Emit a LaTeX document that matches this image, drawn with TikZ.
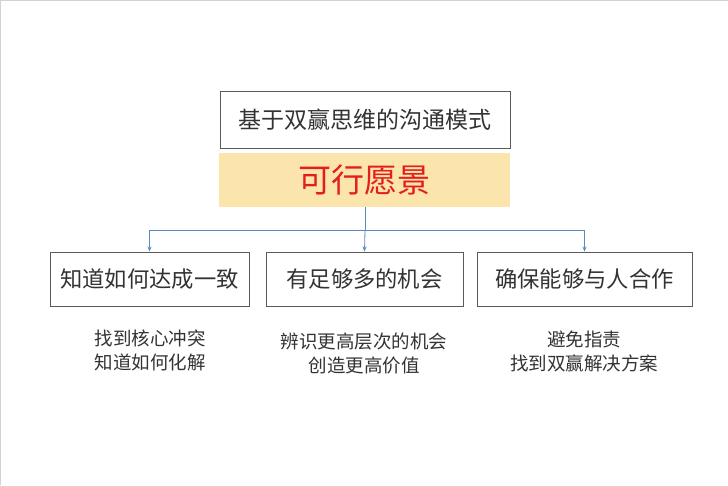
\documentclass[tikz,border=0pt]{standalone}
\usepackage{fontspec}
\setmainfont{Noto Sans CJK SC}
\usetikzlibrary{arrows.meta}
\definecolor{boxline}{HTML}{5A5A5A}
\definecolor{txt}{HTML}{333333}
\definecolor{visionfill}{HTML}{FCE5AC}
\definecolor{visionred}{HTML}{E31E1E}
\definecolor{link}{HTML}{5B8AC2}
\tikzset{
  x=1pt, y=-1pt,
  mainbox/.style={draw=boxline, line width=0.9pt, minimum height=54pt, inner sep=0pt, text=txt, font=\fontsize{22.3}{26}\selectfont},
  titlebox/.style={draw=boxline, line width=0.9pt, minimum width=290pt, minimum height=57pt, inner sep=0pt, text=txt, font=\fontsize{24.5}{28}\selectfont},
  visionbox/.style={fill=visionfill, minimum width=291pt, minimum height=54pt, inner sep=0pt, text=visionred, font=\fontsize{33}{36}\selectfont},
  note/.style={align=center, text=txt, font=\fontsize{18.5}{24}\selectfont, inner sep=0pt},
  conn/.style={draw=link, line width=0.8pt},
  arr/.style={conn, -{Stealth[length=5pt,width=4pt]}},
}
\begin{document}
\begin{tikzpicture}
\useasboundingbox (0,0) rectangle (728,485);
\fill[white] (0,0) rectangle (728,485);
\draw[gray!35, line width=1pt] (0.5,485) -- (0.5,0.5) -- (728,0.5);
\node[titlebox] (title) at (365,119.5) {\fontsize{23}{28}\selectfont 基于双赢思维的沟通模式};
\node[visionbox] (vision) at (364.5,180) {可行愿景};
\node[mainbox, minimum width=199pt] (b1) at (149.5,279) {知道如何达成一致};
\node[mainbox, minimum width=197pt] (b2) at (364.5,279) {有足够多的机会};
\node[mainbox, minimum width=215pt] (b3) at (584.5,279) {确保能够与人合作};
\node[note] (n1) at (150,350) {找到核心冲突\\知道如何化解};
\node[note] (n2) at (364,354) {辨识更高层次的机会\\创造更高价值};
\node[note] (n3) at (584,351) {避免指责\\找到双赢解决方案};
\coordinate (bus) at (365,230);
\draw[conn] (vision.south -| bus) -- (bus);
\draw[conn] (b1.north |- bus) -- (b3.north |- bus);
\draw[arr] (b1.north |- bus) -- (b1.north);
\draw[arr] (bus) -- (b2.north);
\draw[arr] (b3.north |- bus) -- (b3.north);
\end{tikzpicture}
\end{document}
